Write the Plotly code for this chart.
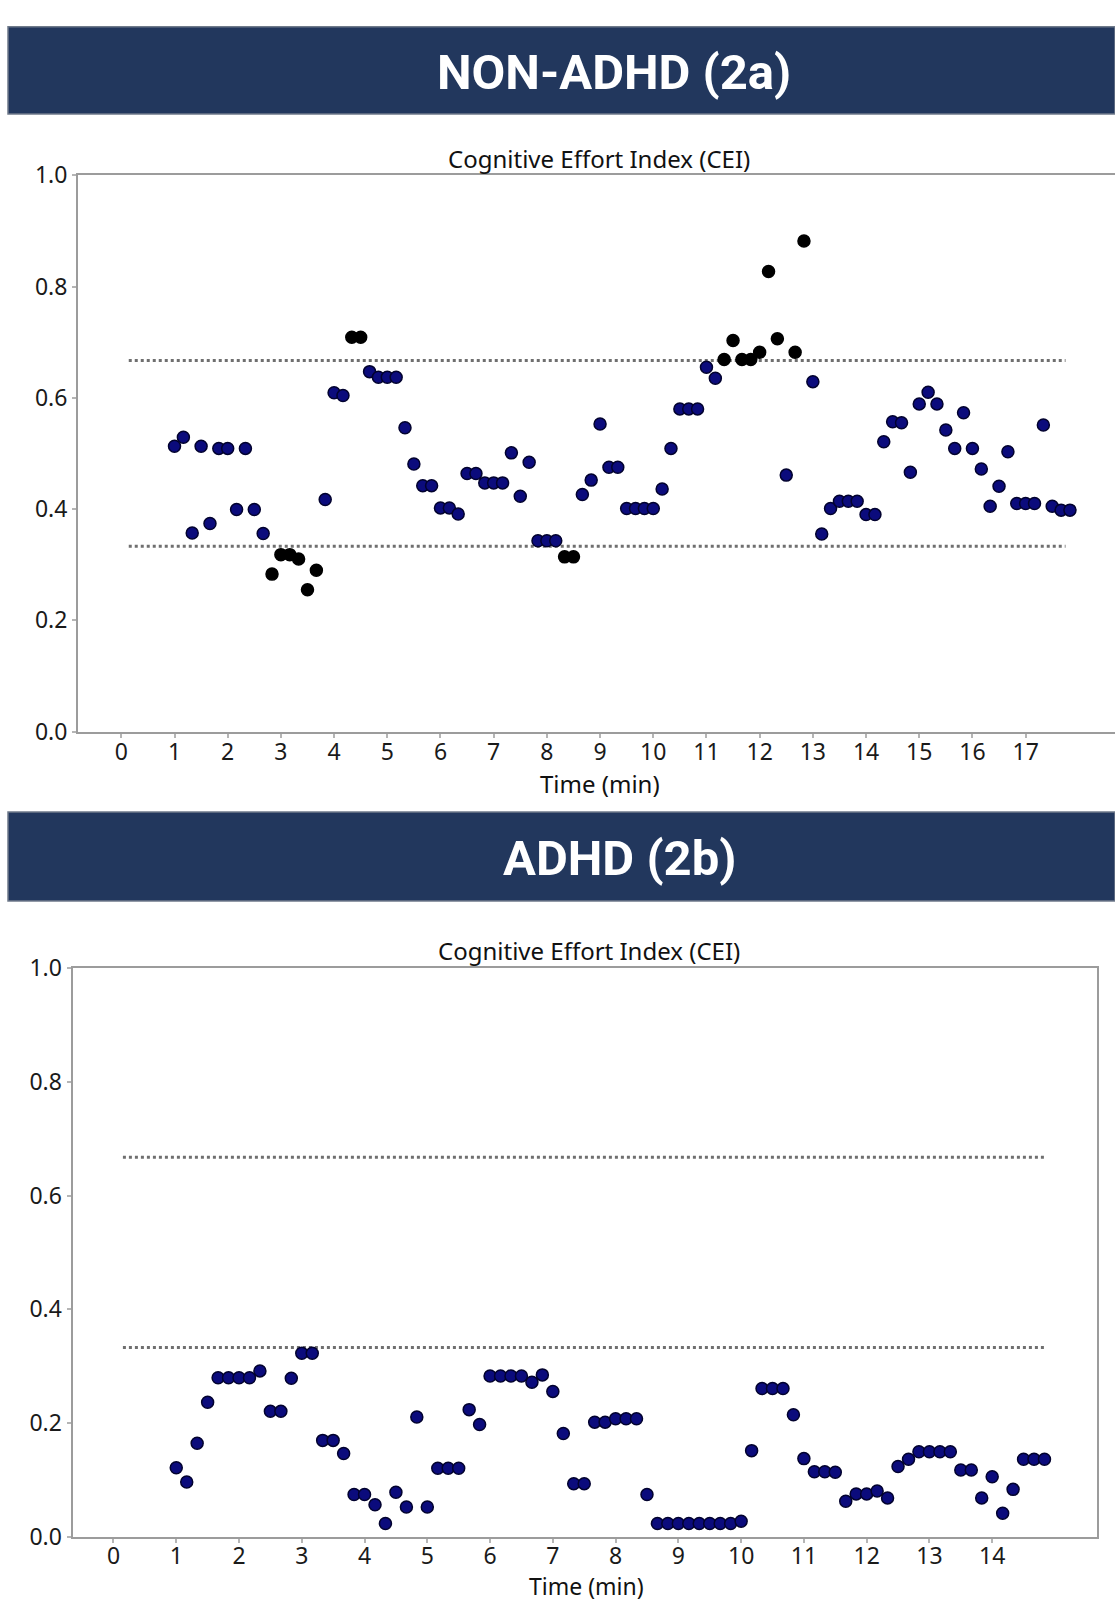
import plotly.graph_objects as go

# ---------------- data ----------------
top_time = [1.0, 1.167, 1.333, 1.5, 1.667, 1.833, 2.0, 2.167, 2.333, 2.5,
            2.667, 2.833, 3.0, 3.167, 3.333, 3.5, 3.667, 3.833, 4.0, 4.167,
            4.333, 4.5, 4.667, 4.833, 5.0, 5.167, 5.333, 5.5, 5.667, 5.833,
            6.0, 6.167, 6.333, 6.5, 6.667, 6.833, 7.0, 7.167, 7.333, 7.5,
            7.667, 7.833, 8.0, 8.167, 8.333, 8.5, 8.667, 8.833, 9.0, 9.167,
            9.333, 9.5, 9.667, 9.833, 10.0, 10.167, 10.333, 10.5, 10.667, 10.833,
            11.0, 11.167, 11.333, 11.5, 11.667, 11.833, 12.0, 12.167, 12.333, 12.5,
            12.667, 12.833, 13.0, 13.167, 13.333, 13.5, 13.667, 13.833, 14.0, 14.167,
            14.333, 14.5, 14.667, 14.833, 15.0, 15.167, 15.333, 15.5, 15.667, 15.833,
            16.0, 16.167, 16.333, 16.5, 16.667, 16.833, 17.0, 17.167, 17.333, 17.5,
            17.667, 17.833]
top_cei = [0.513, 0.529, 0.357, 0.513, 0.374, 0.509, 0.509, 0.399, 0.509, 0.399,
           0.356, 0.283, 0.318, 0.318, 0.310, 0.255, 0.290, 0.417, 0.609, 0.604,
           0.709, 0.709, 0.647, 0.637, 0.637, 0.637, 0.546, 0.481, 0.442, 0.442,
           0.402, 0.402, 0.391, 0.464, 0.464, 0.447, 0.447, 0.447, 0.501, 0.423,
           0.484, 0.343, 0.343, 0.343, 0.314, 0.314, 0.426, 0.452, 0.553, 0.475,
           0.475, 0.401, 0.401, 0.401, 0.401, 0.436, 0.509, 0.580, 0.580, 0.580,
           0.655, 0.635, 0.669, 0.703, 0.669, 0.669, 0.682, 0.827, 0.706, 0.461,
           0.682, 0.882, 0.629, 0.355, 0.401, 0.414, 0.414, 0.414, 0.390, 0.390,
           0.521, 0.557, 0.555, 0.466, 0.589, 0.610, 0.589, 0.542, 0.509, 0.573,
           0.509, 0.472, 0.405, 0.441, 0.503, 0.410, 0.410, 0.410, 0.551, 0.405,
           0.398, 0.398]

bot_time = [1.0, 1.167, 1.333, 1.5, 1.667, 1.833, 2.0, 2.167, 2.333, 2.5,
            2.667, 2.833, 3.0, 3.167, 3.333, 3.5, 3.667, 3.833, 4.0, 4.167,
            4.333, 4.5, 4.667, 4.833, 5.0, 5.167, 5.333, 5.5, 5.667, 5.833,
            6.0, 6.167, 6.333, 6.5, 6.667, 6.833, 7.0, 7.167, 7.333, 7.5,
            7.667, 7.833, 8.0, 8.167, 8.333, 8.5, 8.667, 8.833, 9.0, 9.167,
            9.333, 9.5, 9.667, 9.833, 10.0, 10.167, 10.333, 10.5, 10.667, 10.833,
            11.0, 11.167, 11.333, 11.5, 11.667, 11.833, 12.0, 12.167, 12.333, 12.5,
            12.667, 12.833, 13.0, 13.167, 13.333, 13.5, 13.667, 13.833, 14.0, 14.167,
            14.333, 14.5, 14.667, 14.833]
bot_cei = [0.122, 0.097, 0.165, 0.237, 0.280, 0.280, 0.280, 0.280, 0.292, 0.221,
           0.221, 0.279, 0.323, 0.323, 0.170, 0.170, 0.147, 0.075, 0.075, 0.057,
           0.024, 0.079, 0.053, 0.211, 0.053, 0.121, 0.121, 0.121, 0.224, 0.198,
           0.283, 0.283, 0.283, 0.283, 0.272, 0.285, 0.256, 0.182, 0.094, 0.094,
           0.202, 0.202, 0.208, 0.208, 0.208, 0.075, 0.024, 0.024, 0.024, 0.024,
           0.024, 0.024, 0.024, 0.024, 0.028, 0.152, 0.261, 0.261, 0.261, 0.215,
           0.138, 0.115, 0.115, 0.114, 0.063, 0.076, 0.076, 0.081, 0.069, 0.124,
           0.137, 0.150, 0.150, 0.150, 0.150, 0.118, 0.118, 0.069, 0.106, 0.042,
           0.084, 0.137, 0.137, 0.137]

thresholds = [0.667, 0.333]
top_thresh_span = [0.14, 17.75]
bot_thresh_span = [0.15, 14.84]

top_xticks = list(range(0, 18))
bot_xticks = list(range(0, 15))
y_ticks = [0.0, 0.2, 0.4, 0.6, 0.8, 1.0]
y_ticktext = ["0.0", "0.2", "0.4", "0.6", "0.8", "1.0"]

titles = ["NON-ADHD (2a)", "ADHD (2b)"]
chart_title = "Cognitive Effort Index (CEI)"
x_title = "Time (min)"

# ---------------- styling ----------------
W, H = 1115, 1611
NAVY = "#22375d"
BLUE = "#0b0b7c"
BLACK = "#000000"
AXIS = "#9c9c9c"
FONT = "Noto Sans"


def py(px):  # pixel row from top -> paper y
    return 1 - px / H


def pxx(px):
    return px / W


top_colors = [BLACK if (v > thresholds[0] or v < thresholds[1]) else BLUE for v in top_cei]
top_lines = ["#000000" if c == BLACK else "#02022e" for c in top_colors]

fig = go.Figure()

# threshold dotted lines
for th in thresholds:
    fig.add_trace(go.Scatter(x=top_thresh_span, y=[th, th], mode="lines",
                             line=dict(color="#6f6f6f", width=3, dash="dot"),
                             xaxis="x", yaxis="y", hoverinfo="skip"))
    fig.add_trace(go.Scatter(x=bot_thresh_span, y=[th, th], mode="lines",
                             line=dict(color="#6f6f6f", width=3, dash="dot"),
                             xaxis="x2", yaxis="y2", hoverinfo="skip"))

fig.add_trace(go.Scatter(x=top_time, y=top_cei, mode="markers",
                         marker=dict(size=12, color=top_colors,
                                     line=dict(color=top_lines, width=1.5)),
                         xaxis="x", yaxis="y"))
fig.add_trace(go.Scatter(x=bot_time, y=bot_cei, mode="markers",
                         marker=dict(size=12, color=BLUE,
                                     line=dict(color="#02022e", width=1.5)),
                         xaxis="x2", yaxis="y2"))

axis_common = dict(showline=True, linecolor=AXIS, linewidth=2, ticks="outside",
                   ticklen=4, tickcolor="#b5b5b5", tickwidth=1.5, showgrid=False,
                   zeroline=False, tickfont=dict(family=FONT, size=23, color="#1a1a1a"))

fig.update_layout(
    width=W, height=H, margin=dict(l=0, r=0, t=0, b=0),
    paper_bgcolor="white", plot_bgcolor="white", showlegend=False,
    xaxis=dict(domain=[pxx(78), 1.0], range=[-0.814, 18.68], tickvals=top_xticks,
               mirror=True, anchor="y", ticklabelstandoff=-5, **axis_common),
    yaxis=dict(domain=[py(729), py(161.5)], range=[0, 1], tickvals=y_ticks,
               ticktext=y_ticktext, mirror=False, anchor="x", **axis_common),
    xaxis2=dict(domain=[pxx(72.5), pxx(1097)], range=[-0.653, 15.67], tickvals=bot_xticks,
                mirror=True, anchor="y2", ticklabelstandoff=-7, **axis_common),
    yaxis2=dict(domain=[py(1551), py(970)], range=[0, 1], tickvals=y_ticks,
                ticktext=y_ticktext, mirror=True, anchor="x2", **axis_common),
)

# header bars
for y0, y1 in [(10, 99), (811, 902)]:
    fig.add_shape(type="rect", xref="paper", yref="paper",
                  x0=pxx(8), x1=1.0, y0=py(y1), y1=py(y0),
                  fillcolor=NAVY, line=dict(color="#6f7a8a", width=1.5), layer="above")

annots = [
    dict(text=titles[0], x=pxx(614), y=py(57),
         font=dict(family="Roboto", size=49, color="white", weight="bold")),
    dict(text=titles[1], x=pxx(619), y=py(859),
         font=dict(family="Roboto", size=49, color="white", weight="bold")),
    dict(text=chart_title, x=pxx(599), y=py(144),
         font=dict(family=FONT, size=24, color="#111111")),
    dict(text=chart_title, x=pxx(589), y=py(952),
         font=dict(family=FONT, size=24, color="#111111")),
    dict(text=x_title, x=pxx(600), y=py(782),
         font=dict(family=FONT, size=24, color="#111111")),
    dict(text=x_title, x=pxx(586), y=py(1601),
         font=dict(family=FONT, size=23, color="#111111")),
]
for a in annots:
    fig.add_annotation(xref="paper", yref="paper", showarrow=False,
                       xanchor="center", yanchor="middle", **a)

fig.write_html("out.html")
